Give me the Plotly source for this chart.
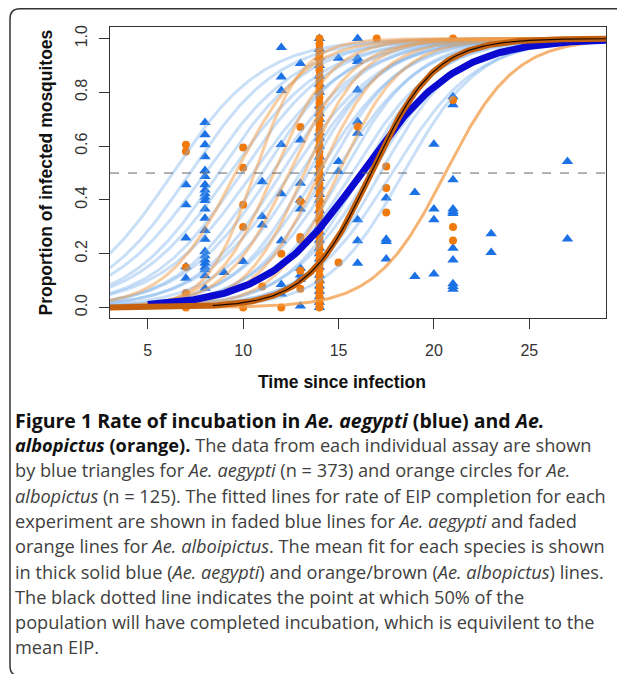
import numpy as np
import plotly.graph_objects as go

# ---------------- data ----------------
# Ae. aegypti observations (blue triangles): day, proportion
aeg_x = ([7]*5 + [8]*23 + [9] + [10] + [11]*3 + [12]*8 + [13]*9 + [14]*36 +
         [15]*3 + [16]*9 + [17.5]*4 + [19]*2 + [20]*4 + [21]*11 + [23]*2 + [27]*2)
aeg_y = ([0.456, 0.382, 0.258, 0.152, 0.109] +
         [0.688, 0.642, 0.605, 0.561, 0.509, 0.487, 0.456, 0.437, 0.423, 0.41, 0.398, 0.366,
          0.332, 0.286, 0.254, 0.208, 0.192, 0.177, 0.165, 0.15, 0.14, 0.118, 0.072] +
         [0.13] + [0.171] + [0.468, 0.338, 0.307] +
         [0.967, 0.857, 0.807, 0.606, 0.423, 0.248, 0.086, 0.05] +
         [0.907, 0.623, 0.462, 0.40, 0.366, 0.146, 0.121, 0.105, 0.006] +
         [0.0, 0.02, 0.04, 0.06, 0.08, 0.1, 0.12, 0.15, 0.18, 0.2, 0.22, 0.25, 0.28, 0.3,
          0.33, 0.36, 0.4, 0.42, 0.45, 0.48, 0.5, 0.53, 0.56, 0.6, 0.63, 0.65, 0.7, 0.72,
          0.75, 0.8, 0.83, 0.86, 0.9, 0.93, 0.96, 1.0] +
         [0.927, 0.543, 0.506] +
         [1.0, 0.927, 0.915, 0.809, 0.691, 0.648, 0.326, 0.248, 0.165] +
         [0.407, 0.254, 0.245, 0.18] +
         [0.428, 0.115] +
         [0.607, 0.366, 0.326, 0.125] +
         [0.784, 0.754, 0.475, 0.366, 0.357, 0.35, 0.22, 0.177, 0.088, 0.078, 0.068] +
         [0.274, 0.205] +
         [0.543, 0.255])

# Ae. albopictus observations (orange circles)
alb_day14 = [0.0, 0.01, 0.02, 0.04, 0.05, 0.07, 0.09, 0.1, 0.12, 0.14, 0.16, 0.18, 0.2,
             0.22, 0.24, 0.26, 0.28, 0.3, 0.32, 0.34, 0.36, 0.38, 0.4, 0.42, 0.44, 0.46,
             0.48, 0.5, 0.52, 0.54, 0.56, 0.58, 0.6, 0.62, 0.64, 0.66, 0.68, 0.7, 0.72,
             0.74, 0.76, 0.78, 0.8, 0.82, 0.84, 0.86, 0.88, 0.9, 0.92, 0.94, 0.96, 0.98, 1.0]
alb_x = ([7]*5 + [10]*5 + [11] + [12]*2 + [13]*6 + [14]*len(alb_day14) + [15] + [16] +
         [17] + [17.5]*3 + [21]*4)
alb_y = ([0.605, 0.58, 0.15, 0.054, 0.0] +
         [0.595, 0.52, 0.382, 0.299, 0.0] +
         [0.078] + [0.2, 0.0] +
         [0.671, 0.394, 0.262, 0.252, 0.137, 0.07] +
         alb_day14 +
         [0.167] + [0.673] + [1.0] +
         [0.524, 0.444, 0.353] +
         [1.0, 0.772, 0.299, 0.249])

# fitted logistic curves per experiment: day at 50% (EIP50) and rate
aeg_fit_mid = [6.3, 7.2, 8.0, 8.7, 9.3, 9.9, 10.5, 11.0, 11.5, 12.0, 12.5, 13.0,
               13.4, 13.9, 14.3, 14.8, 15.2, 15.7, 16.2, 16.7, 17.2, 17.8, 18.4]
aeg_fit_rate = [0.42, 0.42, 0.40, 0.42, 0.40, 0.42, 0.40, 0.45, 0.42, 0.45, 0.42, 0.45,
                0.50, 0.45, 0.50, 0.45, 0.50, 0.45, 0.50, 0.45, 0.50, 0.45, 0.50]
alb_fit_mid = [9.6, 10.6, 11.6, 12.4, 13.2, 14.0, 15.0, 20.6]
alb_fit_rate = [0.55, 0.80, 0.65, 0.60, 0.65, 0.60, 0.60, 0.55]

# mean fits per species
aeg_mean_mid, aeg_mean_rate, aeg_mean_start = 16.2, 0.40, 5.0
alb_mean_mid, alb_mean_rate = 16.7, 0.60
black_start = 8.4

x_ticks = [5, 10, 15, 20, 25]
y_ticks = [0.0, 0.2, 0.4, 0.6, 0.8, 1.0]
y_ticklabels = ["0.0", "0.2", "0.4", "0.6", "0.8", "1.0"]

XR = [3.02, 29.02]
YR = [-0.039, 1.043]


def logistic(x, m, r):
    return 1.0 / (1.0 + np.exp(-r * (x - m)))


fig = go.Figure()

BLUE = "#1c72e4"
ORANGE = "#f07a0c"

fig.add_trace(go.Scatter(x=aeg_x, y=aeg_y, mode="markers",
                         marker=dict(symbol="triangle-up", size=10, color=BLUE),
                         showlegend=False))
fig.add_trace(go.Scatter(x=alb_x, y=alb_y, mode="markers",
                         marker=dict(symbol="circle", size=8, color=ORANGE),
                         showlegend=False))

xs = np.linspace(XR[0], XR[1], 240)
for m, r in zip(aeg_fit_mid, aeg_fit_rate):
    fig.add_trace(go.Scatter(x=xs, y=logistic(xs, m, r), mode="lines",
                             line=dict(color="rgba(120,175,235,0.4)", width=3),
                             showlegend=False, hoverinfo="skip"))
for i, (m, r) in enumerate(zip(alb_fit_mid, alb_fit_rate)):
    alpha = 0.75 if i == len(alb_fit_mid) - 1 else 0.5
    fig.add_trace(go.Scatter(x=xs, y=logistic(xs, m, r), mode="lines",
                             line=dict(color=f"rgba(242,155,70,{alpha})", width=3),
                             showlegend=False, hoverinfo="skip"))

xb = np.linspace(aeg_mean_start, XR[1], 200)
fig.add_trace(go.Scatter(x=xb, y=logistic(xb, aeg_mean_mid, aeg_mean_rate), mode="lines",
                         line=dict(color="#0a0ad0", width=7), showlegend=False))
fig.add_trace(go.Scatter(x=xs, y=logistic(xs, alb_mean_mid, alb_mean_rate), mode="lines",
                         line=dict(color="#c4600e", width=6), showlegend=False))
xk = np.linspace(black_start, XR[1], 200)
fig.add_trace(go.Scatter(x=xk, y=logistic(xk, alb_mean_mid, alb_mean_rate), mode="lines",
                         line=dict(color="#1a0a00", width=1.2), showlegend=False))

# page body adds an 8px offset; work in reference pixel coordinates
OFF = 8
W, H = 625 - OFF, 674 - OFF
L, R, T, B = 110 - OFF, 19, 27 - OFF, 356
pw, ph = W - L - R, H - T - B


def px(xref_pix):
    return (xref_pix - 110) / pw


def py(yref_pix):
    return (318 - yref_pix) / ph


axis_font = dict(family="Liberation Sans, Arial, sans-serif", size=16, color="#333333")
fig.update_xaxes(range=XR, tickvals=x_ticks, ticks="outside", ticklen=10, tickwidth=1,
                 tickcolor="#333333", showline=True, linecolor="#333333", linewidth=1,
                 mirror=True, showgrid=False, zeroline=False, tickfont=axis_font,
                 ticklabelstandoff=8)
fig.update_yaxes(range=YR, tickvals=y_ticks, ticktext=y_ticklabels, ticks="outside",
                 ticklen=10, tickwidth=1, tickcolor="#333333", showline=True,
                 linecolor="#333333", linewidth=1, mirror=True, showgrid=False,
                 zeroline=False, tickfont=axis_font, tickangle=-90, ticklabelstandoff=6)

title_font = dict(family="Liberation Sans, Arial, sans-serif", size=17.5, color="#111111")
ann = []
ann.append(dict(x=px(342), y=py(381.7), xref="paper", yref="paper", showarrow=False,
                text="<b>Time since infection</b>", xanchor="center", yanchor="middle",
                font=title_font))
ann.append(dict(x=px(45), y=0.5, xref="paper", yref="paper", showarrow=False,
                text="<b>Proportion of infected mosquitoes</b>", textangle=-90,
                xanchor="center", yanchor="middle", font=title_font))

BK = "<span style='color:#111111'>"
caption_lines = [
    BK + "<b>Figure 1 Rate of incubation in <i>Ae. aegypti</i> (blue) and <i>Ae.</i></b></span>",
    BK + "<b><i>albopictus</i> (orange).</b></span> The data from each individual assay are shown",
    "by blue triangles for <i>Ae. aegypti</i> (n = 373) and orange circles for <i>Ae.</i>",
    "<i>albopictus</i> (n = 125). The fitted lines for rate of EIP completion for each",
    "experiment are shown in faded blue lines for <i>Ae. aegypti</i> and faded",
    "orange lines for <i>Ae. alboipictus</i>. The mean fit for each species is shown",
    "in thick solid blue (<i>Ae. aegypti</i>) and orange/brown (<i>Ae. albopictus</i>) lines.",
    "The black dotted line indicates the point at which 50% of the",
    "population will have completed incubation, which is equivilent to the",
    "mean EIP.",
]
line_y = [420, 445, 470, 496, 521, 546, 572, 597, 622, 647]
line_size = [19.5] + [18.2] * 9
for t, yy, sz in zip(caption_lines, line_y, line_size):
    ann.append(dict(x=px(13), y=py(yy), xref="paper", yref="paper", showarrow=False,
                    text=t, xanchor="left", yanchor="middle",
                    font=dict(family="Open Sans, sans-serif", size=sz, color="#404040")))

fig.add_shape(type="line", xref="paper", yref="y", x0=0, x1=1, y0=0.5, y1=0.5,
              line=dict(color="#666666", width=1, dash="dash"))

# rounded frame around the figure
xl, xr = px(10), px(660)
yt, yb = py(8.8), py(676)
rx, ry = 10 / pw, 10 / ph
path = (f"M {xr},{yt} L {xl + rx},{yt} Q {xl},{yt} {xl},{yt - ry} "
        f"L {xl},{yb + ry} Q {xl},{yb} {xl + rx},{yb} L {xr},{yb}")
fig.add_shape(type="path", xref="paper", yref="paper", path=path,
              line=dict(color="#333333", width=1.5, dash="solid"))

fig.update_layout(
    width=W, height=H, margin=dict(l=L, r=R, t=T, b=B),
    plot_bgcolor="white", paper_bgcolor="white",
    annotations=ann,
    showlegend=False,
)

fig.write_html("out.html")
